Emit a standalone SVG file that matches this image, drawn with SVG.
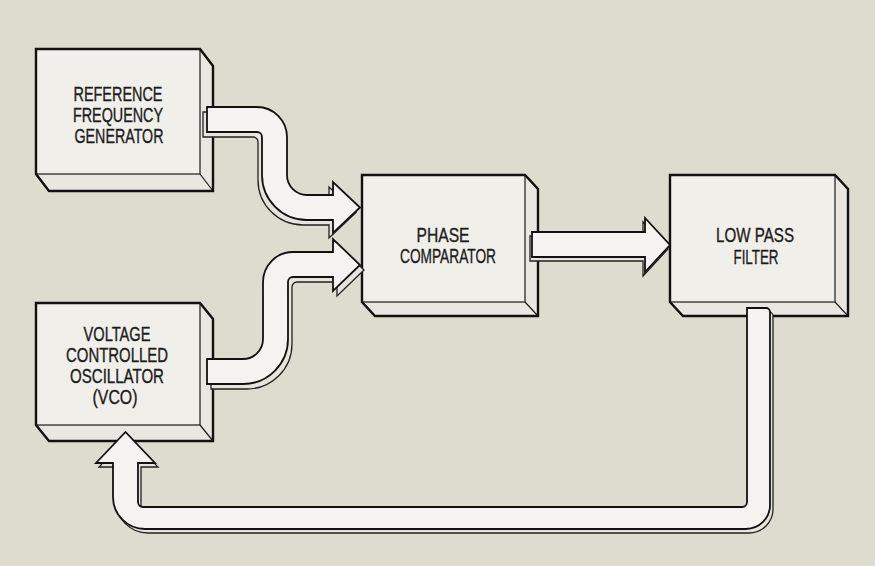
<svg xmlns="http://www.w3.org/2000/svg" width="875" height="566" viewBox="0 0 875 566">
<defs>
<style>
.bg{fill:#dedbcf}
.side{fill:#e9e7e0;stroke:none}
.front{fill:#f1efe9;stroke:#1a1a1a;stroke-width:1.2}
.thin{stroke:#1a1a1a;stroke-width:1.2;fill:none}
.outline{fill:none;stroke:#111;stroke-width:2.4;stroke-linejoin:miter}
.lbl{font-family:"Liberation Sans Narrow","Liberation Sans",Arial,sans-serif;font-size:20px;fill:#1c1c1c;stroke:#1c1c1c;stroke-width:0.35;text-anchor:middle}
.pipe{fill:#f4f3ef;stroke:#111;stroke-width:1.8;stroke-linejoin:miter}
.shadow{fill:#e6e4dc;stroke:#222;stroke-width:1.3}
</style>
</defs>
<rect class="bg" x="0" y="0" width="875" height="566"/>

<g id="ref-gen">
<polygon class="side" points="36,49 200,49 213,66 213,191 49,191 36,174"/>
<rect class="front" x="36" y="49" width="164" height="125"/>
<line class="thin" x1="200" y1="174" x2="213" y2="191"/>
<polygon class="outline" points="36,49 200,49 213,66 213,191 49,191 36,174"/>
<text class="lbl" x="118" y="101" textLength="89" lengthAdjust="spacingAndGlyphs">REFERENCE</text>
<text class="lbl" x="118" y="122" textLength="90" lengthAdjust="spacingAndGlyphs">FREQUENCY</text>
<text class="lbl" x="119" y="143" textLength="89" lengthAdjust="spacingAndGlyphs">GENERATOR</text>
</g>

<g id="vco">
<polygon class="side" points="36,303 200,303 213,319 213,441 49,441 36,425"/>
<rect class="front" x="36" y="303" width="164" height="122"/>
<line class="thin" x1="200" y1="425" x2="213" y2="441"/>
<polygon class="outline" points="36,303 200,303 213,319 213,441 49,441 36,425"/>
<text class="lbl" x="117" y="341" textLength="67" lengthAdjust="spacingAndGlyphs">VOLTAGE</text>
<text class="lbl" x="117" y="362" textLength="102" lengthAdjust="spacingAndGlyphs">CONTROLLED</text>
<text class="lbl" x="117" y="383" textLength="94" lengthAdjust="spacingAndGlyphs">OSCILLATOR</text>
<text class="lbl" x="115" y="404" textLength="45" lengthAdjust="spacingAndGlyphs">(VCO)</text>
</g>

<g id="phase-comparator">
<polygon class="side" points="362,175 525,175 538,189 538,316 375,316 362,302"/>
<rect class="front" x="362" y="175" width="163" height="127"/>
<line class="thin" x1="525" y1="302" x2="538" y2="316"/>
<polygon class="outline" points="362,175 525,175 538,189 538,316 375,316 362,302"/>
<text class="lbl" x="443" y="242" textLength="53" lengthAdjust="spacingAndGlyphs">PHASE</text>
<text class="lbl" x="448" y="263" textLength="96" lengthAdjust="spacingAndGlyphs">COMPARATOR</text>
</g>

<g id="low-pass-filter">
<polygon class="side" points="670,175 835,175 848,189 848,316 683,316 670,302"/>
<rect class="front" x="670" y="175" width="165" height="127"/>
<line class="thin" x1="835" y1="302" x2="848" y2="316"/>
<polygon class="outline" points="670,175 835,175 848,189 848,316 683,316 670,302"/>
<text class="lbl" x="755" y="242" textLength="78" lengthAdjust="spacingAndGlyphs">LOW PASS</text>
<text class="lbl" x="756" y="264" textLength="45" lengthAdjust="spacingAndGlyphs">FILTER</text>
</g>

<g id="connectors">
<g id="ref-to-phase">
<path class="shadow" transform="translate(-4,5)" d="M207,107 H257 A30,30 0 0 1 287,137 V175 A20,20 0 0 0 307,195 H333 V182 L360,207.5 L333,233 V220 H307 A45,45 0 0 1 262,175 V137 A5,5 0 0 0 257,132 H207 Z"/>
<path class="pipe" d="M207,107 H257 A30,30 0 0 1 287,137 V175 A20,20 0 0 0 307,195 H333 V182 L360,207.5 L333,233 V220 H307 A45,45 0 0 1 262,175 V137 A5,5 0 0 0 257,132 H207 Z"/>
</g>
<g id="vco-to-phase">
<path class="shadow" transform="translate(4,5)" d="M207,359 H243 A20,20 0 0 0 263,339 V282 A30,30 0 0 1 293,252 H333 V239 L360,265 L333,291 V277 H293 A5,5 0 0 0 288,282 V339 A45,45 0 0 1 243,384 H207 Z"/>
<path class="pipe" d="M207,359 H243 A20,20 0 0 0 263,339 V282 A30,30 0 0 1 293,252 H333 V239 L360,265 L333,291 V277 H293 A5,5 0 0 0 288,282 V339 A45,45 0 0 1 243,384 H207 Z"/>
</g>
<g id="phase-to-lpf">
<path class="shadow" transform="translate(-2,4)" d="M532,232 H645 V218 L670,245 L645,272 V257 H532 Z"/>
<path class="pipe" d="M532,232 H645 V218 L670,245 L645,272 V257 H532 Z"/>
</g>
<g id="lpf-to-vco">
<path class="shadow" transform="translate(3,4)" d="M747,308 H766 A4,4 0 0 1 770,312 V505 A24,24 0 0 1 746,529 H145 A32,32 0 0 1 113,497 V463 H96 L125.5,432 L155,463 H138 V502 A5,5 0 0 0 143,507 H742 A5,5 0 0 0 747,502 Z"/>
<path class="pipe" d="M747,308 H766 A4,4 0 0 1 770,312 V505 A24,24 0 0 1 746,529 H145 A32,32 0 0 1 113,497 V463 H96 L125.5,432 L155,463 H138 V502 A5,5 0 0 0 143,507 H742 A5,5 0 0 0 747,502 Z"/>
</g>
</g>
</svg>
